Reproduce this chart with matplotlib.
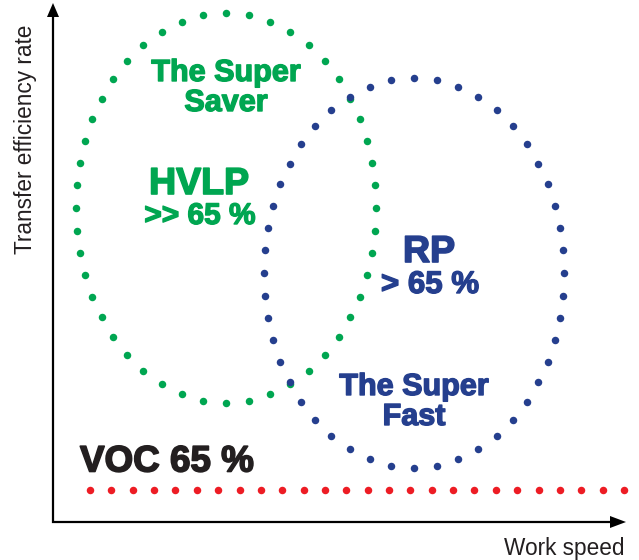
import numpy as np
import matplotlib
matplotlib.use("Agg")
import matplotlib.pyplot as plt
import matplotlib.patheffects as pe

# ---- data (figure-pixel coordinate space) ----
ellipse_names = ["HVLP", "RP"]
ellipse_centers_x = [226, 414]
ellipse_centers_y = [208, 273]
ellipse_radii_x = [150, 150]
ellipse_radii_y = [195, 195]
ellipse_dot_counts = [48, 48]
ellipse_colors = ["#00a651", "#253f8e"]

voc_line_y = 490
voc_line_x_start = 90
voc_line_x_end = 624
voc_dot_count = 26
voc_color = "#ed1c24"

x_label = "Work speed"
y_label = "Transfer efficiency rate"

W, H = 639, 560
fig = plt.figure(figsize=(W / 100, H / 100), dpi=100)
ax = fig.add_axes([0, 0, 1, 1])
ax.set_xlim(0, W)
ax.set_ylim(H, 0)
ax.axis("off")

def even_ellipse(cx, cy, rx, ry, n):
    t = np.linspace(0, 2 * np.pi, 4000)
    x = cx + rx * np.sin(t)
    y = cy - ry * np.cos(t)
    d = np.concatenate([[0], np.cumsum(np.hypot(np.diff(x), np.diff(y)))])
    s = np.linspace(0, d[-1], n, endpoint=False)
    return np.interp(s, d, x), np.interp(s, d, y)

for cx, cy, rx, ry, n, c in zip(ellipse_centers_x, ellipse_centers_y,
                                ellipse_radii_x, ellipse_radii_y,
                                ellipse_dot_counts, ellipse_colors):
    ex, ey = even_ellipse(cx, cy, rx, ry, n)
    ax.plot(ex, ey, "o", color=c, markersize=5.4, markeredgewidth=0)

vx = np.linspace(voc_line_x_start, voc_line_x_end, voc_dot_count)
ax.plot(vx, np.full_like(vx, voc_line_y), "o", color=voc_color,
        markersize=5.4, markeredgewidth=0)

# axes with arrows
ax.plot([53, 53, 612], [12, 522, 522], color="black", lw=1.6,
        solid_joinstyle="miter")
ax.fill([47, 59, 53], [17, 17, 3], color="black", lw=0)
ax.fill([610, 610, 626], [516, 528, 522], color="black", lw=0)

font = "Liberation Sans"
green, blue = ellipse_colors
black = "#231f20"

def heavy(c, w=1.0):
    return [pe.withStroke(linewidth=w, foreground=c)]

ax.text(226, 88, "The Super\nSaver", color=green, fontsize=22, fontweight="bold",
        family=font, ha="center", va="center", linespacing=1.0,
        path_effects=heavy(green))
ax.text(199, 184, "HVLP", color=green, fontsize=27, fontweight="bold",
        family=font, ha="center", va="center", path_effects=heavy(green, 1.2))
ax.text(200, 216, ">> 65 %", color=green, fontsize=21.5, fontweight="bold",
        family=font, ha="center", va="center", path_effects=heavy(green))
ax.text(429, 252, "RP", color=blue, fontsize=27, fontweight="bold",
        family=font, ha="center", va="center", path_effects=heavy(blue, 1.2))
ax.text(430, 285, "> 65 %", color=blue, fontsize=22.5, fontweight="bold",
        family=font, ha="center", va="center", path_effects=heavy(blue))
ax.text(414, 402, "The Super\nFast", color=blue, fontsize=22, fontweight="bold",
        family=font, ha="center", va="center", linespacing=1.0,
        path_effects=heavy(blue))
ax.text(80, 462, "VOC 65 %", color=black, fontsize=26.5, fontweight="bold",
        family=font, ha="left", va="center", path_effects=heavy(black, 1.2))

ax.text(625, 548, x_label, fontsize=16.3, family=font, ha="right", va="center",
        color=black)
ax.text(26, 25, y_label, fontsize=16.3, family=font, ha="center", va="top",
        rotation=90, color=black)

fig.savefig("out.png", dpi=100)
